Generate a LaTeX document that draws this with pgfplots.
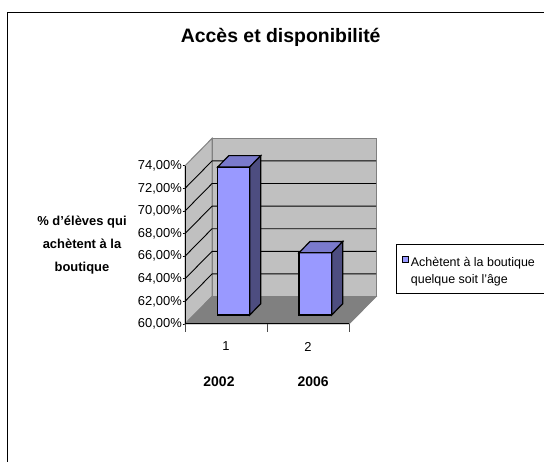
\documentclass[border=0pt]{standalone}
\usepackage{fontspec}
\setmainfont{Liberation Sans}
\usepackage{pgfplots}
\usepackage{pgfplotstable}
\pgfplotsset{compat=1.18}
\definecolor{barfront}{RGB}{153,153,255}
\definecolor{bartop}{RGB}{122,122,204}
\definecolor{barside}{RGB}{77,77,128}
\definecolor{wallc}{RGB}{192,192,192}
\definecolor{floorc}{RGB}{128,128,128}
\definecolor{edgec}{RGB}{128,128,128}

\pgfplotstableread{
cat val
1 73.1
2 65.5
}\bardata
\pgfplotstablegetelem{0}{val}\of\bardata
\pgfmathsetmacro\Af{\pgfplotsretval+0.8}
\pgfmathsetmacro\Ab{\pgfplotsretval+1.8}
\pgfplotstablegetelem{1}{val}\of\bardata
\pgfmathsetmacro\Bf{\pgfplotsretval+0.8}
\pgfmathsetmacro\Bb{\pgfplotsretval+1.8}

\begin{document}
\begin{tikzpicture}
\path[use as bounding box] (0,0) rectangle (544bp,462bp);
\draw[line width=1.5bp] (7.5bp,-30bp) rectangle (600bp,449.5bp);
\begin{axis}[
  at={(185bp,138bp)}, anchor=south west,
  x=82bp, y=11.3bp,
  xmin=0.5, xmax=2.5, ymin=60, ymax=74,
  clip=false,
  axis line style={draw=none},
  /pgf/number format/assume math mode=true,
  xtick={1,2}, xticklabels={1,2},
  xtick style={draw=none},
  ytick={60,62,...,74},
  ytick pos=left, xtick pos=left,
  tick align=outside,
  major tick length=2.5bp,
  ytick style={black, line width=0.8bp},
  tick label style={font=\fontsize{13}{15}\selectfont},
  xticklabel style={yshift=-12bp},
  yticklabel={\pgfmathprintnumber[fixed,fixed zerofill,precision=2,use comma,assume math mode=true]{\tick}\%},
  yticklabel style={inner sep=0.5bp},
  title={Accès et disponibilité},
  title style={at={(axis description cs:0.5835,1.743)}, anchor=base, font=\fontsize{19.5}{23}\selectfont\bfseries},
  ylabel={\% d'élèves qui\\achètent à la\\boutique},
  ylabel style={at={(axis description cs:-0.628,0.5)}, anchor=center, rotate=-90, align=center, font=\fontsize{13}{23}\selectfont\bfseries},
  xlabel={2002\hspace{63bp}2006},
  xlabel style={at={(axis description cs:0.494,0)}, anchor=base, yshift=-62.7bp, font=\fontsize{14}{16}\selectfont\bfseries},
  legend style={at={(axis cs:3.07,67.08)}, anchor=north west, draw=black, line width=0.8bp,
    inner xsep=6bp, inner ysep=5.5bp, row sep=3bp, nodes={inner sep=2bp},
    font=\fontsize{12.5}{15}\selectfont},
  legend cell align=left,
  legend image code/.code={\draw[#1, line width=0.8bp] (0bp,-3bp) rectangle (6bp,3bp);},
]
% walls and floor
\addplot[forget plot, fill=wallc, draw=edgec, line width=1bp] coordinates {(0.5,60) (0.5,74) (0.83,76.43) (0.83,62.43)} -- cycle;
\addplot[forget plot, fill=wallc, draw=edgec, line width=1bp] coordinates {(0.83,62.43) (2.83,62.43) (2.83,76.43) (0.83,76.43)} -- cycle;
\addplot[forget plot, fill=floorc, draw=edgec, line width=1bp] coordinates {(0.5,60) (2.5,60) (2.83,62.43) (0.83,62.43)} -- cycle;
% gridlines
\addplot[forget plot, black, line width=0.9bp] coordinates {(0.5,62) (0.83,64.43) (2.83,64.43)};
\addplot[forget plot, black, line width=0.9bp] coordinates {(0.5,64) (0.83,66.43) (2.83,66.43)};
\addplot[forget plot, black, line width=0.9bp] coordinates {(0.5,66) (0.83,68.43) (2.83,68.43)};
\addplot[forget plot, black, line width=0.9bp] coordinates {(0.5,68) (0.83,70.43) (2.83,70.43)};
\addplot[forget plot, black, line width=0.9bp] coordinates {(0.5,70) (0.83,72.43) (2.83,72.43)};
\addplot[forget plot, black, line width=0.9bp] coordinates {(0.5,72) (0.83,74.43) (2.83,74.43)};
% front axis lines and category ticks
\addplot[forget plot, black, line width=1bp] coordinates {(0.5,74) (0.5,60) (2.5,60)};
\addplot[forget plot, black!70, line width=1bp] coordinates {(0.5,60) (0.5,59.29)};
\addplot[forget plot, black!70, line width=1bp] coordinates {(1.5,60) (1.5,59.29)};
\addplot[forget plot, black!70, line width=1bp] coordinates {(2.5,60) (2.5,59.29)};
% bar 1
\addplot[forget plot, fill=barfront, draw=black, line width=1.2bp] coordinates {(0.90,60.8) (1.29,60.8) (1.29,\Af) (0.90,\Af)} -- cycle;
\addplot[forget plot, fill=bartop, draw=black, line width=1.2bp] coordinates {(0.90,\Af) (1.29,\Af) (1.424,\Ab) (1.034,\Ab)} -- cycle;
\addplot[forget plot, fill=barside, draw=black, line width=1.2bp] coordinates {(1.29,60.8) (1.424,61.8) (1.424,\Ab) (1.29,\Af)} -- cycle;
% bar 2
\addplot[forget plot, fill=barfront, draw=black, line width=1.2bp] coordinates {(1.89,60.8) (2.29,60.8) (2.29,\Bf) (1.89,\Bf)} -- cycle;
\addplot[forget plot, fill=bartop, draw=black, line width=1.2bp] coordinates {(1.89,\Bf) (2.29,\Bf) (2.424,\Bb) (2.024,\Bb)} -- cycle;
\addplot[forget plot, fill=barside, draw=black, line width=1.2bp] coordinates {(2.29,60.8) (2.424,61.8) (2.424,\Bb) (2.29,\Bf)} -- cycle;
% legend
\addlegendimage{fill=barfront, draw=black}
\addlegendentry{\rule{0pt}{14.5bp}Achètent à la boutique\hspace*{15bp}}
\addlegendimage{empty legend}
\addlegendentry{quelque soit l'âge}
\end{axis}
\end{tikzpicture}
\end{document}
